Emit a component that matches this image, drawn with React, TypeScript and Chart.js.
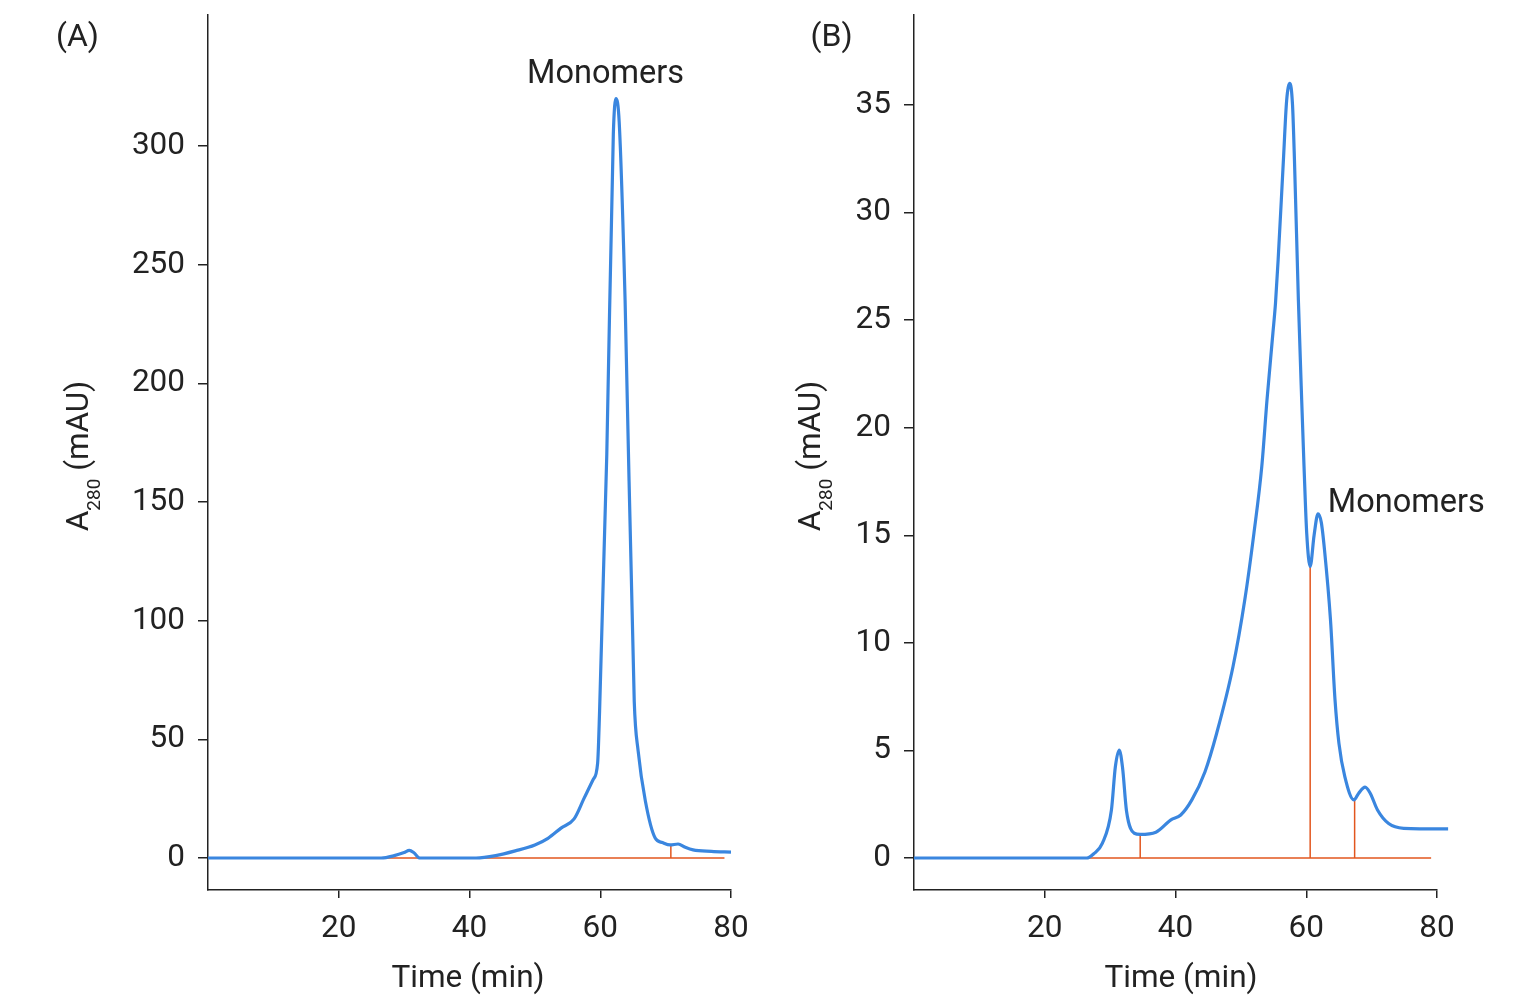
import React, { useEffect, useRef } from "react";
import { Chart, registerables } from "chart.js";

Chart.register(...registerables);

const FONT = "Roboto, 'DejaVu Sans', sans-serif";
const TEXT = "#222222";
const BLUE = "#3a86df";
const ORANGE = "#e2561e";

// ---------- Panel A data ----------
const timeA = [0, 26.5, 28.5, 30.0, 30.8, 31.5, 32.4, 41, 44, 47, 50, 52, 54, 56, 57.5, 58.9, 59.6, 59.9, 61.0, 62.0, 62.4, 62.9, 63.8, 65.2, 65.8, 66.9, 68.4, 69.5, 70.7, 71.9, 73.0, 74.2, 77, 80];
const absA = [0, 0, 1.0, 2.3, 3.2, 2.2, 0, 0, 1.0, 3.0, 5.5, 8.3, 12.6, 16.5, 25, 33, 40, 62, 170, 305, 320, 310, 235, 66, 45, 24, 8.4, 6.5, 5.5, 5.9, 4.5, 3.4, 2.8, 2.5];
const baselineA = [27.2, 79];
const cutTimesA = [70.8];
const cutTopsA = [5.5];
const yTicksA = [0, 50, 100, 150, 200, 250, 300];

// ---------- Panel B data ----------
const timeB = [0, 26.4, 27.5, 28.8, 30.2, 30.8, 31.4, 31.9, 32.5, 33.7, 34.6, 37, 39.3, 40.8, 42.5, 44.5, 46.3, 48.8, 50.6, 52.0, 53.2, 54.0, 54.9, 55.3, 55.7, 56.5, 57.0, 57.5, 57.9, 58.2, 58.8, 59.3, 59.66, 60.07, 60.6, 61.2, 61.8, 62.3, 62.8, 63.7, 64.4, 65.0, 65.9, 67.3, 68.0, 69.0, 69.8, 70.9, 72.6, 74.9, 81.7];
const absB = [0, 0, 0.2, 0.68, 2.23, 4.24, 5.02, 4.2, 2.2, 1.15, 1.1, 1.2, 1.77, 2.0, 2.7, 4.0, 5.8, 8.9, 12.0, 15.1, 18.2, 21.3, 24.4, 25.8, 27.8, 32.4, 35.2, 36, 35, 32.4, 25.9, 21.3, 18.2, 15.1, 13.55, 15.0, 16.0, 15.6, 14.3, 11.1, 7.35, 5.33, 3.78, 2.7, 3.0, 3.29, 3.0, 2.23, 1.6, 1.38, 1.35];
const baselineB = [26.5, 79.1];
const cutTimesB = [34.6, 60.6, 67.4];
const cutTopsB = [1.1, 13.55, 2.7];
const yTicksB = [0, 5, 10, 15, 20, 25, 30, 35];

const xTicks = [20, 40, 60, 80];

type PanelSpec = {
  time: number[];
  abs: number[];
  baseline: number[];
  cutTimes: number[];
  cutTops: number[];
  yTicks: number[];
  yMin: number;
  yMax: number;
  letter: string;
  monoX: number;
  monoY: number;
  monoAlign: CanvasTextAlign;
  axisLeft: number;
  rightPad: number;
  letterX: number;
  yTitleX: number;
  xTitleX: number;
};

const CW = 761;
const CH = 1000;

function drawYTitle(ctx: CanvasRenderingContext2D, bx: number, cy: number) {
  ctx.save();
  ctx.translate(bx, cy);
  ctx.rotate(-Math.PI / 2);
  ctx.fillStyle = TEXT;
  ctx.textBaseline = "alphabetic";
  ctx.textAlign = "left";
  const big = `31.5px ${FONT}`;
  const small = `19px ${FONT}`;
  ctx.font = big;
  const wA = ctx.measureText("A").width;
  const wRest = ctx.measureText(" (mAU)").width;
  ctx.font = small;
  const wSub = ctx.measureText("280").width;
  const total = wA + wSub + wRest;
  let x = -total / 2;
  ctx.font = big;
  ctx.fillText("A", x, 0);
  x += wA;
  ctx.font = small;
  ctx.fillText("280", x, 12);
  x += wSub;
  ctx.font = big;
  ctx.fillText(" (mAU)", x, 0);
  ctx.restore();
}

function buildConfig(p: PanelSpec): any {
  const line = (pts: { x: number; y: number }[], color: string, w: number, order: number, smooth = false) => ({
    data: pts,
    borderColor: color,
    backgroundColor: color,
    borderWidth: w,
    pointRadius: 0,
    pointHoverRadius: 0,
    showLine: true,
    fill: false,
    clip: false,
    order,
    cubicInterpolationMode: smooth ? "monotone" : "default",
    tension: 0,
    borderCapStyle: "butt",
  });
  const datasets = [
    line(p.time.map((t, i) => ({ x: t, y: p.abs[i] })), BLUE, 3.2, 0, true),
    line([{ x: p.baseline[0], y: 0 }, { x: p.baseline[1], y: 0 }], ORANGE, 1.5, 1),
    ...p.cutTimes.map((t, i) => line([{ x: t, y: 0 }, { x: t, y: p.cutTops[i] }], ORANGE, 1.5, 1)),
  ];

  const decor = {
    id: "decor" + p.letter,
    afterDraw(chart: any) {
      const ctx = chart.ctx as CanvasRenderingContext2D;
      const xs = chart.scales.x;
      const ys = chart.scales.y;
      ctx.save();
      ctx.fillStyle = TEXT;
      ctx.textBaseline = "alphabetic";
      ctx.textAlign = "center";
      ctx.font = `32px ${FONT}`;
      ctx.fillText(`(${p.letter})`, p.letterX, 46);
      ctx.font = `31.5px ${FONT}`;
      ctx.fillText("Time (min)", p.xTitleX, 987);
      ctx.font = `32.5px ${FONT}`;
      ctx.textAlign = p.monoAlign;
      ctx.fillText("Monomers", xs.getPixelForValue(p.monoX), ys.getPixelForValue(p.monoY));
      ctx.restore();
      drawYTitle(ctx, p.yTitleX, 456);
    },
  };

  return {
    type: "scatter",
    data: { datasets },
    options: {
      responsive: false,
      animation: false,
      events: [],
      layout: { padding: { left: 0, right: p.rightPad, top: 15, bottom: 0 } },
      plugins: { legend: { display: false }, tooltip: { enabled: false }, title: { display: false } },
      scales: {
        x: {
          type: "linear",
          min: 0,
          max: 80,
          afterBuildTicks: (s: any) => {
            s.ticks = xTicks.map((v) => ({ value: v }));
          },
          afterFit: (s: any) => {
            s.height = CH - 890;
            s.paddingLeft = 0;
            s.paddingRight = 0;
          },
          grid: { drawOnChartArea: false, drawTicks: true, tickLength: 8, color: TEXT, lineWidth: 1.5 },
          border: { display: true, color: TEXT, width: 1.5 },
          ticks: { color: TEXT, font: { family: FONT, size: 31.5 }, padding: 12, maxRotation: 0, autoSkip: false },
        },
        y: {
          type: "linear",
          min: p.yMin,
          max: p.yMax,
          afterBuildTicks: (s: any) => {
            s.ticks = p.yTicks.map((v) => ({ value: v }));
          },
          afterFit: (s: any) => {
            s.width = p.axisLeft;
            s.paddingTop = 0;
            s.paddingBottom = 0;
          },
          grid: { drawOnChartArea: false, drawTicks: true, tickLength: 10, color: TEXT, lineWidth: 1.5 },
          border: { display: true, color: TEXT, width: 1.5 },
          ticks: { color: TEXT, font: { family: FONT, size: 31.5 }, padding: 13, autoSkip: false },
        },
      },
    },
    plugins: [decor],
  };
}

const specA: PanelSpec = {
  time: timeA,
  abs: absA,
  baseline: baselineA,
  cutTimes: cutTimesA,
  cutTops: cutTopsA,
  yTicks: yTicksA,
  yMin: -13.48,
  yMax: 355.2,
  letter: "A",
  monoX: 60.8,
  monoY: 326.6,
  monoAlign: "center",
  axisLeft: 208,
  rightPad: CW - 731,
  letterX: 77.5,
  yTitleX: 88,
  xTitleX: 468,
};

const specB: PanelSpec = {
  time: timeB,
  abs: absB,
  baseline: baselineB,
  cutTimes: cutTimesB,
  cutTops: cutTopsB,
  yTicks: yTicksB,
  yMin: -1.487,
  yMax: 39.18,
  letter: "B",
  monoX: 63.3,
  monoY: 16.1,
  monoAlign: "left",
  axisLeft: 914 - CW,
  rightPad: CW - (1437 - CW),
  letterX: 831.5 - CW,
  yTitleX: 820 - CW,
  xTitleX: 1181 - CW,
};

function Panel({ spec, left }: { spec: PanelSpec; left: number }) {
  const ref = useRef<HTMLCanvasElement>(null);
  useEffect(() => {
    const chart = new Chart(ref.current as HTMLCanvasElement, buildConfig(spec));
    return () => chart.destroy();
  }, []);
  return (
    <canvas
      ref={ref}
      width={CW}
      height={CH}
      style={{ position: "absolute", left, top: 0, width: CW, height: CH, display: "block" }}
    />
  );
}

export default function App() {
  return (
    <div style={{ position: "absolute", left: 0, top: 0, width: 1522, height: 1000, background: "#ffffff" }}>
      <Panel spec={specA} left={0} />
      <Panel spec={specB} left={CW} />
    </div>
  );
}
